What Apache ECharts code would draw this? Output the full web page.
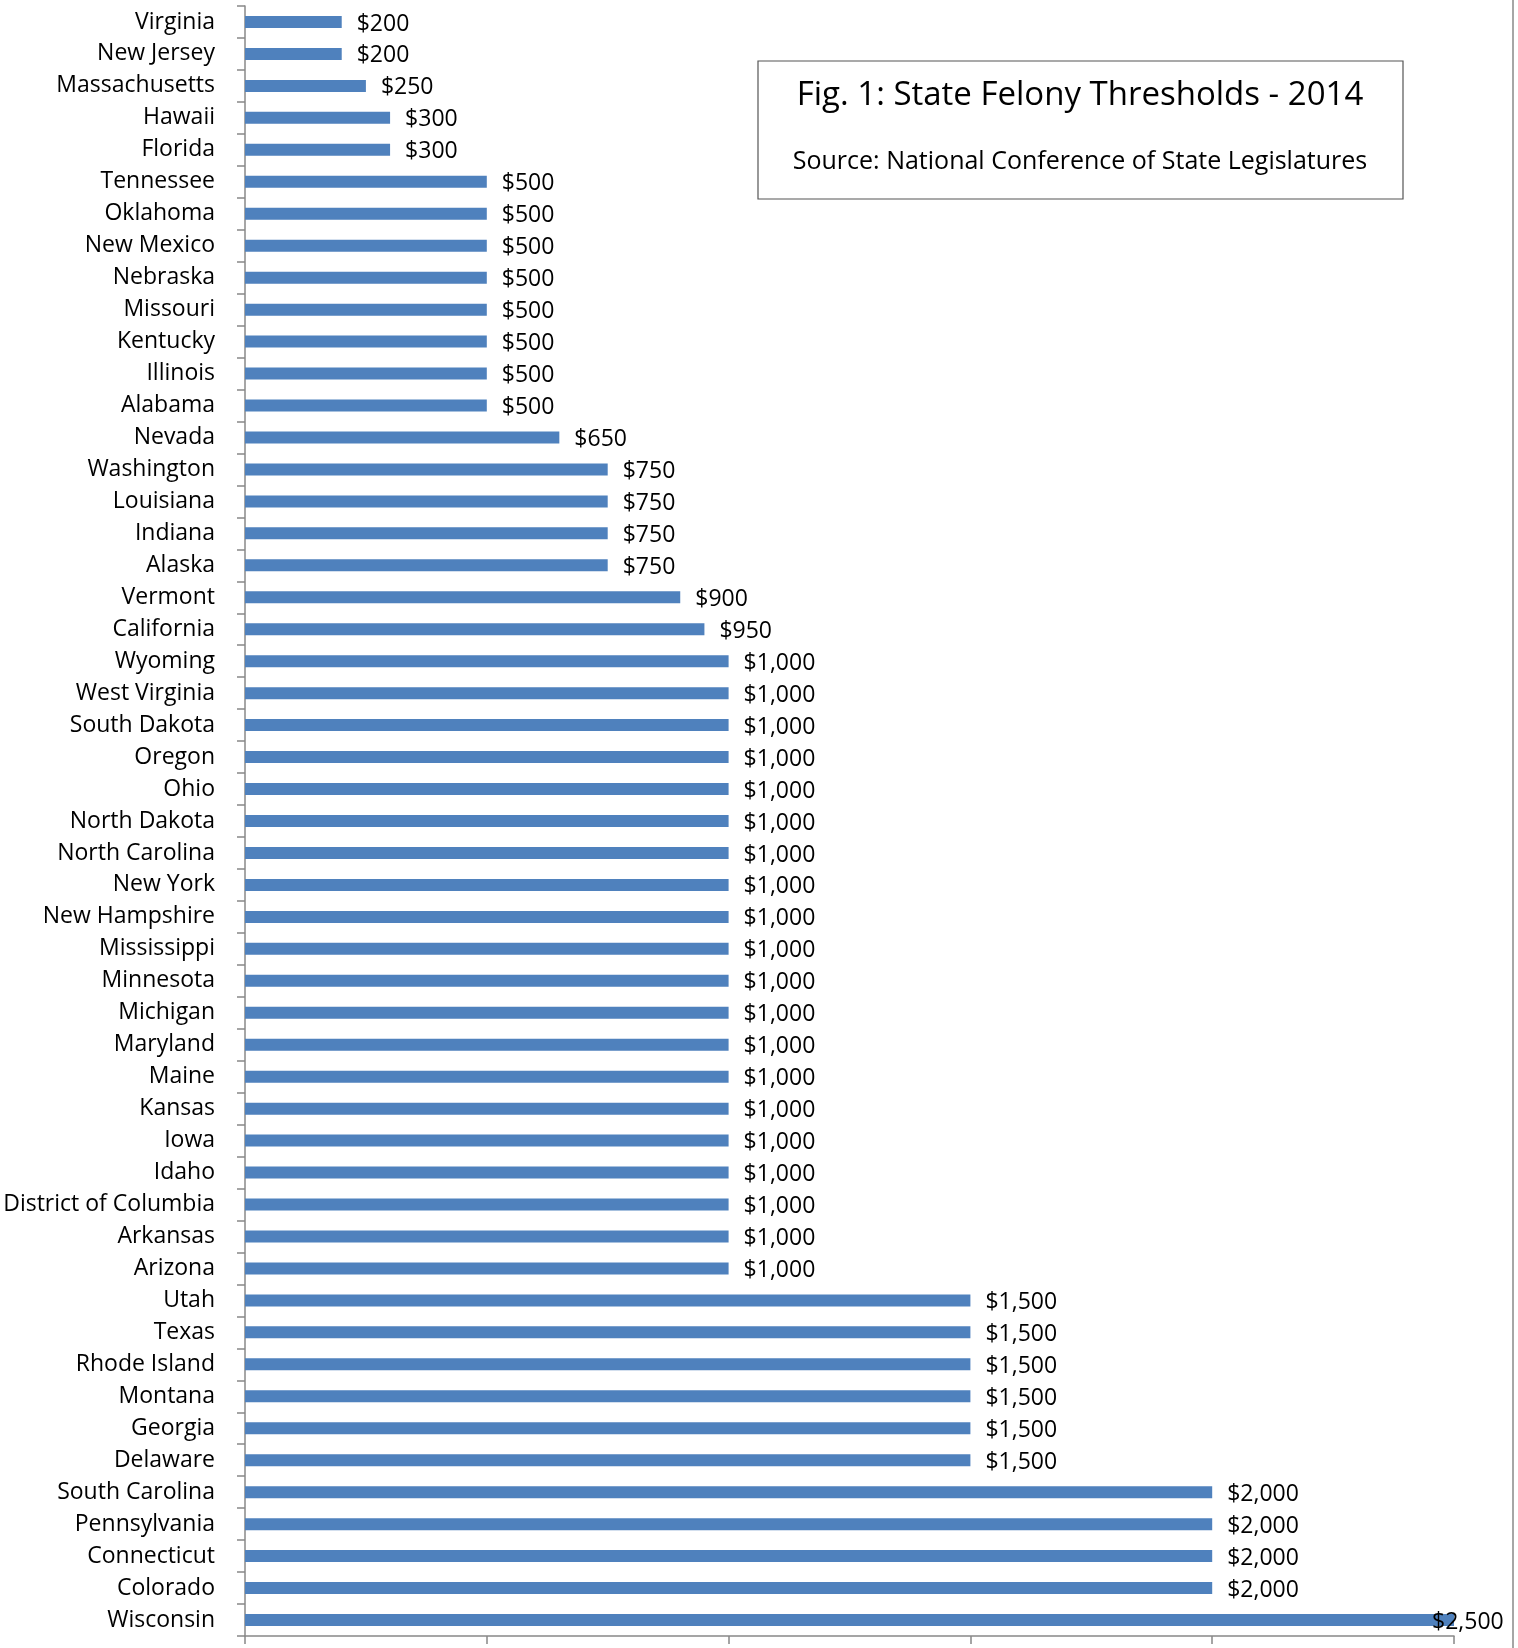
<!DOCTYPE html>
<html>
<head>
<meta charset="utf-8">
<title>State Felony Thresholds - 2014</title>
<script src="https://cdn.jsdelivr.net/npm/echarts@6/dist/echarts.min.js"></script>
<style>
  html, body { margin: 0; padding: 0; background: #ffffff; }
  #chart { width: 1518px; height: 1648px; }
</style>
</head>
<body>
<div id="chart"></div>
<script>
// States listed top to bottom, with their felony theft thresholds in dollars
const states = [
  'Virginia', 'New Jersey', 'Massachusetts', 'Hawaii', 'Florida',
  'Tennessee', 'Oklahoma', 'New Mexico', 'Nebraska', 'Missouri', 'Kentucky', 'Illinois', 'Alabama',
  'Nevada',
  'Washington', 'Louisiana', 'Indiana', 'Alaska',
  'Vermont', 'California',
  'Wyoming', 'West Virginia', 'South Dakota', 'Oregon', 'Ohio', 'North Dakota', 'North Carolina',
  'New York', 'New Hampshire', 'Mississippi', 'Minnesota', 'Michigan', 'Maryland', 'Maine',
  'Kansas', 'Iowa', 'Idaho', 'District of Columbia', 'Arkansas', 'Arizona',
  'Utah', 'Texas', 'Rhode Island', 'Montana', 'Georgia', 'Delaware',
  'South Carolina', 'Pennsylvania', 'Connecticut', 'Colorado',
  'Wisconsin'
];
const thresholds = [
  200, 200, 250, 300, 300,
  500, 500, 500, 500, 500, 500, 500, 500,
  650,
  750, 750, 750, 750,
  900, 950,
  1000, 1000, 1000, 1000, 1000, 1000, 1000,
  1000, 1000, 1000, 1000, 1000, 1000, 1000,
  1000, 1000, 1000, 1000, 1000, 1000,
  1500, 1500, 1500, 1500, 1500, 1500,
  2000, 2000, 2000, 2000,
  2500
];
const axisMin = 0;
const axisMax = 2500;
const axisStep = 500;

const titleText = 'Fig. 1: State Felony Thresholds - 2014';
const sourceText = 'Source: National Conference of State Legislatures';

const FONT = '"Open Sans", "Noto Sans", sans-serif';
const AXIS_GREY = '#888888';

const fmtDollar = v => '$' + v.toLocaleString('en-US');

// Bars reaching the end of the axis get their label pulled back over the bar
const barData = thresholds.map(v => {
  if (v >= axisMax) {
    return {
      value: v,
      label: { position: ['100%', '50%'], align: 'left', verticalAlign: 'middle', offset: [-22, 2] }
    };
  }
  return v;
});

const chart = echarts.init(document.getElementById('chart'), null, { renderer: 'canvas' });

chart.setOption({
  backgroundColor: '#ffffff',
  animation: false,
  grid: { left: 245, right: 64, top: 6, bottom: 12, containLabel: false },
  xAxis: {
    type: 'value',
    min: axisMin,
    max: axisMax,
    interval: axisStep,
    axisLine: { show: true, lineStyle: { color: AXIS_GREY, width: 1.5 } },
    axisTick: { show: true, inside: false, length: 8, lineStyle: { color: AXIS_GREY, width: 1.5 } },
    axisLabel: { show: false },
    splitLine: { show: false }
  },
  yAxis: {
    type: 'category',
    data: states,
    inverse: true,
    axisLine: { show: true, lineStyle: { color: AXIS_GREY, width: 1.5 } },
    axisTick: { show: true, inside: false, length: 8, lineStyle: { color: AXIS_GREY, width: 1.5 } },
    axisLabel: {
      margin: 30,
      color: '#000000',
      fontFamily: FONT,
      fontSize: 23,
      padding: [7, 0, 0, 0]
    },
    splitLine: { show: false }
  },
  series: [{
    type: 'bar',
    data: barData,
    barWidth: 12,
    itemStyle: { color: '#4F81BD' },
    label: {
      show: true,
      position: 'right',
      distance: 15,
      offset: [0, 2],
      color: '#000000',
      fontFamily: FONT,
      fontSize: 23,
      formatter: p => fmtDollar(p.value)
    }
  }],
  graphic: [
    // outer chart frame, right edge
    {
      type: 'line',
      shape: { x1: 1513, y1: 0, x2: 1513, y2: 1648 },
      style: { stroke: AXIS_GREY, lineWidth: 1.5 },
      z: 10
    },
    // title box
    {
      type: 'rect',
      shape: { x: 758, y: 61, width: 645, height: 138 },
      style: { fill: '#ffffff', stroke: '#555555', lineWidth: 1.2 },
      z: 10
    },
    {
      type: 'text',
      x: 1080, y: 96,
      style: {
        text: titleText,
        fontFamily: FONT, fontSize: 33,
        fill: '#000000', align: 'center', verticalAlign: 'middle'
      },
      z: 11
    },
    {
      type: 'text',
      x: 1080, y: 162,
      style: {
        text: sourceText,
        fontFamily: FONT, fontSize: 25,
        fill: '#000000', align: 'center', verticalAlign: 'middle'
      },
      z: 11
    }
  ]
});
</script>
</body>
</html>
